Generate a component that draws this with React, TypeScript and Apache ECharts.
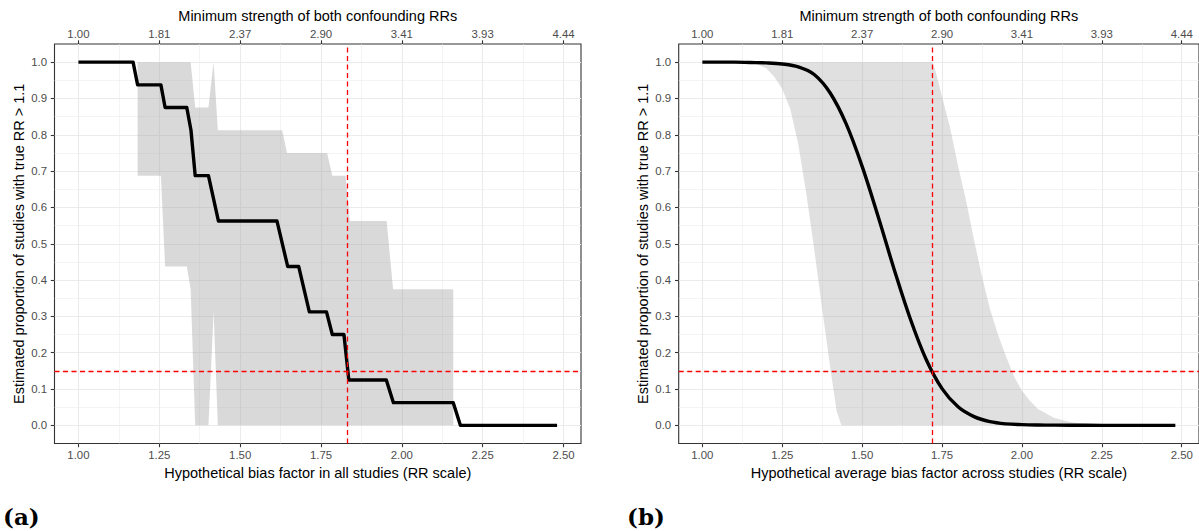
import React, { useEffect, useRef } from "react";
import * as echarts from "echarts";

// ---------- shared axes ----------
const xBreaks = [1.0, 1.25, 1.5, 1.75, 2.0, 2.25, 2.5];
const xMinorBreaks = [1.125, 1.375, 1.625, 1.875, 2.125, 2.375];
const topLabels = ["1.00", "1.81", "2.37", "2.90", "3.41", "3.93", "4.44"];
const yBreaks = [0.0, 0.1, 0.2, 0.3, 0.4, 0.5, 0.6, 0.7, 0.8, 0.9, 1.0];
const yMinorBreaks = [0.05, 0.15, 0.25, 0.35, 0.45, 0.55, 0.65, 0.75, 0.85, 0.95];
const xLimits = [0.926, 2.554];
const yLimits = [-0.05, 1.05];

const topTitle = "Minimum strength of both confounding RRs";
const yTitle = "Estimated proportion of studies with true RR > 1.1";
const xTitleA = "Hypothetical bias factor in all studies (RR scale)";
const xTitleB = "Hypothetical average bias factor across studies (RR scale)";
const refY = 0.15;

// ---------- panel (a) ----------
const stepAX = [1.0, 1.169, 1.183, 1.255, 1.268, 1.335, 1.348, 1.361, 1.402, 1.433, 1.614, 1.647, 1.681, 1.714, 1.767, 1.785, 1.821, 1.836, 1.952, 1.974, 2.159, 2.181, 2.48];
const stepAY = [1.0, 1.0, 0.9375, 0.9375, 0.875, 0.875, 0.8125, 0.6875, 0.6875, 0.5625, 0.5625, 0.4375, 0.4375, 0.3125, 0.3125, 0.25, 0.25, 0.125, 0.125, 0.0625, 0.0625, 0.0, 0.0];
const ribbonAX = [1.183, 1.255, 1.268, 1.335, 1.347, 1.361, 1.402, 1.418, 1.431, 1.63, 1.645, 1.769, 1.785, 1.826, 1.839, 1.953, 1.973, 2.159];
const ribbonALower = [0.6875, 0.6875, 0.4375, 0.4375, 0.375, 0, 0, 0.3125, 0, 0, 0, 0, 0, 0, 0, 0, 0, 0];
const ribbonAUpper = [1, 1, 1, 1, 1, 0.875, 0.875, 1, 0.8125, 0.8125, 0.75, 0.75, 0.6875, 0.6875, 0.5625, 0.5625, 0.375, 0.375];
const refXA = 1.832;

// ---------- panel (b) ----------
const curveBX = [1.0, 1.05, 1.1, 1.15, 1.2, 1.25, 1.3, 1.35, 1.4, 1.45, 1.5, 1.55, 1.6, 1.65, 1.7, 1.75, 1.8, 1.85, 1.9, 1.95, 2.0, 2.05, 2.1, 2.2, 2.3, 2.4, 2.48];
const curveBY = [1.0, 1.0, 1.0, 0.999, 0.998, 0.995, 0.987, 0.966, 0.915, 0.83, 0.713, 0.575, 0.43, 0.295, 0.182, 0.101, 0.051, 0.024, 0.01, 0.004, 0.002, 0.001, 0.0005, 0.0001, 0, 0, 0];
const ribbonBX = [1.0, 1.1, 1.15, 1.175, 1.2, 1.225, 1.25, 1.275, 1.3, 1.325, 1.35, 1.375, 1.4, 1.42, 1.435, 1.72, 1.73, 1.75, 1.775, 1.8, 1.825, 1.85, 1.875, 1.9, 1.925, 1.95, 1.975, 2.0, 2.025, 2.05, 2.1, 2.15, 2.2, 2.25, 2.3, 2.48];
const ribbonBLower = [1.0, 1.0, 0.998, 0.993, 0.983, 0.96, 0.926, 0.872, 0.775, 0.64, 0.485, 0.32, 0.16, 0.04, 0, 0, 0, 0, 0, 0, 0, 0, 0, 0, 0, 0, 0, 0, 0, 0, 0, 0, 0, 0, 0, 0];
const ribbonBUpper = [1, 1, 1, 1, 1, 1, 1, 1, 1, 1, 1, 1, 1, 1, 1, 1.0, 0.975, 0.905, 0.82, 0.715, 0.62, 0.51, 0.41, 0.32, 0.25, 0.19, 0.135, 0.095, 0.068, 0.045, 0.021, 0.009, 0.003, 0.001, 0, 0];
const refXB = 1.721;

const FONT = '"Liberation Sans", Arial, Helvetica, sans-serif';
const PANEL_TOP = 44;
const PANEL_H = 399.5;
const RED = "#FF0000";

type PanelSpec = {
  left: number;
  width: number;
  xTitle: string;
  lineX: number[];
  lineY: number[];
  smooth: boolean;
  ribX: number[];
  ribLo: number[];
  ribHi: number[];
  ribFill: string;
  refX: number;
};

function buildPanel(idx: number, p: PanelSpec) {
  const xb = idx * 3;
  const yb = idx * 2;
  const grid = {
    left: p.left,
    top: PANEL_TOP,
    width: p.width,
    height: PANEL_H,
    show: true,
    borderColor: "#333333",
    borderWidth: 1.1,
    backgroundColor: "transparent",
  };
  const tickStyle = { color: "#333333", width: 1.1 };
  const titleStyle = { fontSize: 14.5, color: "#000000", fontFamily: FONT };
  const labelBase = { fontSize: 11.4, color: "#4D4D4D", fontFamily: FONT };
  const xAxes = [
    {
      gridIndex: idx,
      type: "value",
      position: "bottom",
      min: xLimits[0],
      max: xLimits[1],
      name: p.xTitle,
      nameLocation: "middle",
      nameGap: 20,
      nameTextStyle: titleStyle,
      axisLine: { show: false, onZero: false },
      axisTick: { show: true, length: 3.7, customValues: xBreaks, lineStyle: tickStyle },
      axisLabel: {
        show: true,
        customValues: xBreaks,
        formatter: (v: number) => v.toFixed(2),
        margin: 5.8,
        ...labelBase,
      },
      splitLine: { show: true, lineStyle: { color: "#EBEBEB", width: 1.1 } },
    },
    {
      gridIndex: idx,
      type: "value",
      position: "top",
      min: xLimits[0],
      max: xLimits[1],
      name: topTitle,
      nameLocation: "middle",
      nameGap: 17.5,
      nameTextStyle: titleStyle,
      axisLine: { show: false, onZero: false },
      axisTick: { show: true, length: 3.7, customValues: xBreaks, lineStyle: tickStyle },
      axisLabel: {
        show: true,
        customValues: xBreaks,
        formatter: (v: number) => {
          const i = xBreaks.findIndex((b) => Math.abs(b - v) < 1e-6);
          return i >= 0 ? topLabels[i] : "";
        },
        margin: 5,
        ...labelBase,
      },
      splitLine: { show: false },
    },
    {
      gridIndex: idx,
      type: "value",
      position: "bottom",
      min: xLimits[0],
      max: xLimits[1],
      axisLine: { show: false, onZero: false },
      axisTick: { show: false, customValues: xMinorBreaks },
      axisLabel: { show: false },
      splitLine: { show: true, lineStyle: { color: "#EBEBEB", width: 0.55 } },
    },
  ];
  const yAxes = [
    {
      gridIndex: idx,
      type: "value",
      position: "left",
      min: yLimits[0],
      max: yLimits[1],
      name: yTitle,
      nameLocation: "middle",
      nameGap: 28.5,
      nameTextStyle: titleStyle,
      axisLine: { show: false, onZero: false },
      axisTick: { show: true, length: 3.7, customValues: yBreaks, lineStyle: tickStyle },
      axisLabel: {
        show: true,
        customValues: yBreaks,
        formatter: (v: number) => v.toFixed(1),
        margin: 7.5,
        ...labelBase,
      },
      splitLine: { show: true, lineStyle: { color: "#EBEBEB", width: 1.1 } },
    },
    {
      gridIndex: idx,
      type: "value",
      position: "left",
      min: yLimits[0],
      max: yLimits[1],
      axisLine: { show: false, onZero: false },
      axisTick: { show: false, customValues: yMinorBreaks },
      axisLabel: { show: false },
      splitLine: { show: true, lineStyle: { color: "#EBEBEB", width: 0.55 } },
    },
  ];
  const ribbonData = p.ribX.map((x, i) => [x, p.ribLo[i], p.ribHi[i]]);
  const lineData = p.lineX.map((x, i) => [x, p.lineY[i]]);
  const refLineStyle = { color: RED, type: [5, 3.5], width: 1.3, opacity: 1 };
  const series = [
    {
      type: "custom",
      xAxisIndex: xb,
      yAxisIndex: yb,
      data: ribbonData,
      encode: { x: 0, y: [1, 2] },
      clip: false,
      silent: true,
      z: 1,
      renderItem: (params: any, api: any) => {
        if (params.dataIndex !== 0) return null;
        const pts: number[][] = [];
        for (let i = 0; i < p.ribX.length; i++) pts.push(api.coord([p.ribX[i], p.ribHi[i]]));
        for (let i = p.ribX.length - 1; i >= 0; i--) pts.push(api.coord([p.ribX[i], p.ribLo[i]]));
        return { type: "polygon", shape: { points: pts }, style: { fill: p.ribFill, stroke: "none" } };
      },
    },
    {
      type: "line",
      xAxisIndex: xb,
      yAxisIndex: yb,
      data: lineData,
      symbol: "none",
      smooth: p.smooth ? 0.35 : false,
      lineStyle: { color: "#000000", width: 3.4, join: "round", cap: "butt" },
      z: 3,
      silent: true,
    },
    {
      type: "line",
      xAxisIndex: xb,
      yAxisIndex: yb,
      data: [],
      color: RED,
      symbol: "none",
      z: 4,
      silent: true,
      markLine: {
        silent: true,
        symbol: ["none", "none"],
        label: { show: false },
        itemStyle: { color: RED },
        lineStyle: refLineStyle,
        emphasis: { disabled: true },
        data: [
          { xAxis: p.refX, lineStyle: refLineStyle },
          { yAxis: refY, lineStyle: refLineStyle },
        ],
      },
    },
  ];
  return { grid, xAxes, yAxes, series };
}

export default function App() {
  const ref = useRef<HTMLDivElement>(null);
  useEffect(() => {
    if (!ref.current) return;
    const chart = echarts.init(ref.current, undefined, { renderer: "svg" });
    const a = buildPanel(0, {
      left: 54.5,
      width: 526.5,
      xTitle: xTitleA,
      lineX: stepAX,
      lineY: stepAY,
      smooth: false,
      ribX: ribbonAX,
      ribLo: ribbonALower,
      ribHi: ribbonAUpper,
      ribFill: "rgba(160,160,160,0.4)",
      refX: refXA,
    });
    const b = buildPanel(1, {
      left: 678.7,
      width: 525.8,
      xTitle: xTitleB,
      lineX: curveBX,
      lineY: curveBY,
      smooth: true,
      ribX: ribbonBX,
      ribLo: ribbonBLower,
      ribHi: ribbonBUpper,
      ribFill: "rgba(160,160,160,0.33)",
      refX: refXB,
    });
    chart.setOption({
      animation: false,
      backgroundColor: "#ffffff",
      textStyle: { fontFamily: FONT },
      grid: [a.grid, b.grid],
      xAxis: [...a.xAxes, ...b.xAxes],
      yAxis: [...a.yAxes, ...b.yAxes],
      series: [...a.series, ...b.series],
      graphic: [
        {
          type: "text",
          left: 3,
          top: 505,
          style: { text: "(a)", font: 'bold 23px "DejaVu Serif", serif', fill: "#000000" },
        },
        {
          type: "text",
          left: 627,
          top: 505,
          style: { text: "(b)", font: 'bold 23px "DejaVu Serif", serif', fill: "#000000" },
        },
      ],
    } as any);
    return () => chart.dispose();
  }, []);
  return (
    <div
      ref={ref}
      style={{ position: "absolute", left: 0, top: 0, width: 1199, height: 531 }}
    />
  );
}
